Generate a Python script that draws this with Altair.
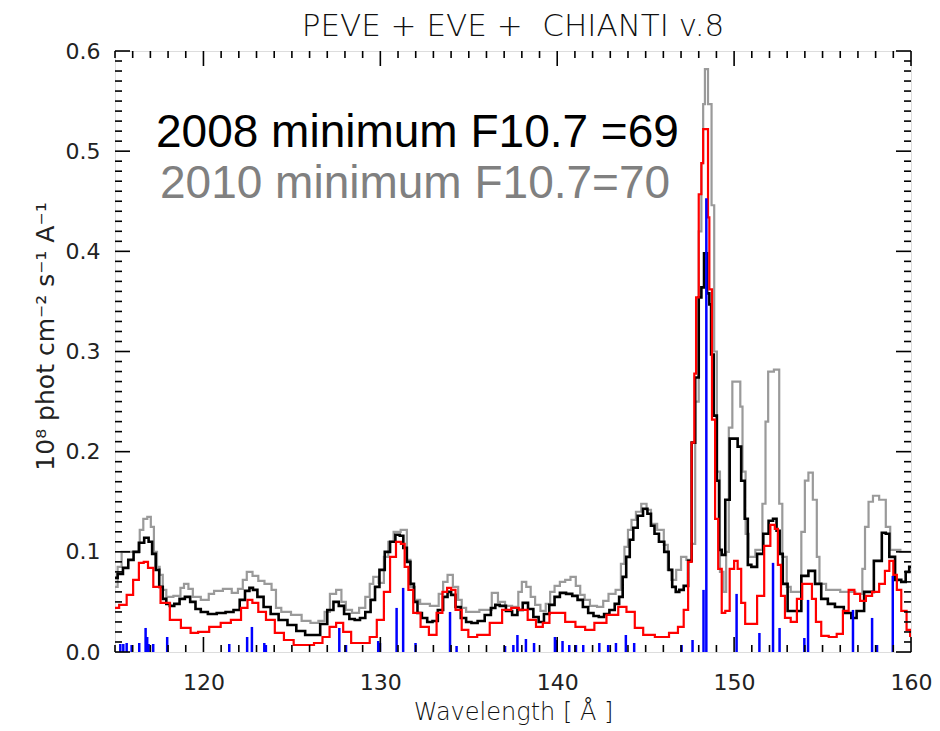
import altair as alt
import numpy as np
import pandas as pd

# ---- spectra (wavelength in Angstrom, flux in 1e8 phot cm^-2 s^-1 A^-1) ----
wl_2008 = [115.0, 115.3, 115.6, 115.9, 116.2, 116.5, 116.8, 117.0, 117.2, 117.4, 117.6, 117.8,
           118.0, 118.2, 118.5, 118.8, 119.1, 119.4, 119.7, 120.0, 120.5, 121.0, 121.5, 121.9,
           122.2, 122.5, 122.7, 122.9, 123.2, 123.6, 124.0, 124.5, 125.0, 125.5, 126.0, 126.4,
           126.8, 127.2, 127.5, 127.8, 128.1, 128.4, 128.7, 129.0, 129.3, 129.6, 129.8, 130.1,
           130.4, 130.7, 131.0, 131.2, 131.4, 131.6, 131.8, 132.0, 132.2, 132.5, 132.8, 133.1,
           133.4, 133.7, 133.9, 134.1, 134.4, 134.7, 135.0, 135.3, 135.7, 136.1, 136.4, 136.6,
           136.9, 137.3, 137.6, 137.9, 138.2, 138.5, 138.8, 139.1, 139.4, 139.7, 140.0, 140.3,
           140.7, 141.0, 141.3, 141.6, 141.9, 142.2, 142.5, 142.8, 143.1, 143.4, 143.6, 143.8,
           144.0, 144.2, 144.4, 144.7, 145.0, 145.2, 145.4, 145.6, 145.9, 146.2, 146.4, 146.6,
           146.8, 147.0, 147.3, 147.5, 147.7, 147.9, 148.1, 148.2, 148.4, 148.55, 148.65, 148.75,
           148.95, 149.1, 149.2, 149.4, 149.6, 149.9, 150.1, 150.3, 150.5, 150.7, 150.85, 151.1,
           151.5, 151.8, 152.1, 152.3, 152.5, 152.65, 152.85, 153.2, 153.6, 154.0, 154.4, 154.75,
           155.1, 155.5, 155.9, 156.5, 156.75, 157.1, 157.6, 158.2, 158.5, 158.65, 158.9, 159.3,
           159.6, 159.8, 160.0]
fx_2008 = [0.074, 0.078, 0.084, 0.092, 0.100, 0.109, 0.114, 0.110, 0.098, 0.082, 0.065, 0.053,
           0.048, 0.046, 0.048, 0.053, 0.055, 0.050, 0.043, 0.040, 0.038, 0.039, 0.040, 0.042,
           0.052, 0.061, 0.064, 0.062, 0.055, 0.045, 0.038, 0.032, 0.027, 0.021, 0.017, 0.017,
           0.028, 0.042, 0.050, 0.046, 0.038, 0.033, 0.032, 0.034, 0.040, 0.052, 0.065, 0.082,
           0.100, 0.110, 0.117, 0.116, 0.104, 0.090, 0.068, 0.050, 0.039, 0.034, 0.030, 0.031,
           0.042, 0.055, 0.060, 0.057, 0.045, 0.034, 0.030, 0.029, 0.031, 0.037, 0.044, 0.047,
           0.046, 0.041, 0.037, 0.042, 0.049, 0.043, 0.035, 0.030, 0.038, 0.047, 0.055, 0.059,
           0.058, 0.056, 0.052, 0.045, 0.039, 0.036, 0.035, 0.038, 0.042, 0.048, 0.055, 0.075,
           0.095, 0.112, 0.124, 0.136, 0.143, 0.138, 0.126, 0.118, 0.110, 0.100, 0.082, 0.065,
           0.060, 0.062, 0.066, 0.091, 0.209, 0.274, 0.354, 0.364, 0.398, 0.358, 0.347, 0.297,
           0.236, 0.171, 0.102, 0.097, 0.152, 0.213, 0.213, 0.205, 0.171, 0.133, 0.087, 0.085,
           0.098, 0.118, 0.131, 0.133, 0.121, 0.098, 0.068, 0.041, 0.041, 0.076, 0.081, 0.068,
           0.053, 0.048, 0.045, 0.039, 0.034, 0.041, 0.060, 0.091, 0.119, 0.118, 0.095, 0.072,
           0.070, 0.080, 0.085]

wl_2010 = [115.0, 115.3, 115.45, 116.3, 116.5, 116.7, 116.95, 117.1, 117.3, 117.45, 117.6, 117.8,
           118.0, 118.6, 118.8, 119.0, 119.3, 119.5, 120.2, 120.4, 120.8, 121.4, 121.8, 122.1,
           122.35, 122.55, 123.0, 123.2, 123.7, 124.0, 124.2, 124.6, 125.3, 125.8, 126.3, 126.7,
           127.0, 127.3, 127.7, 127.9, 128.2, 128.6, 129.0, 129.3, 129.5, 129.7, 130.1, 130.3,
           130.6, 130.9, 131.4, 131.6, 131.8, 132.1, 132.4, 133.2, 133.4, 133.7, 133.9, 134.3,
           134.5, 134.7, 135.0, 136.2, 136.4, 136.9, 137.2, 137.7, 137.9, 138.1, 138.4, 138.6,
           138.9, 139.2, 139.5, 139.7, 140.0, 140.3, 140.6, 140.9, 141.2, 141.4, 141.7, 142.0,
           142.5, 142.7, 143.1, 143.5, 143.7, 143.9, 144.1, 144.3, 144.6, 144.9, 145.2, 145.4,
           145.9, 146.15, 146.35, 146.55, 146.9, 147.1, 147.5, 147.7, 147.9, 148.1, 148.2, 148.3,
           148.4, 148.65, 148.8, 148.95, 149.1, 149.3, 149.5, 149.6, 149.8, 150.0, 150.3, 150.4,
           150.55, 150.75, 150.9, 151.5, 151.7, 151.85, 152.0, 152.5, 152.6, 152.85, 153.1, 153.3,
           153.7, 153.9, 154.1, 154.3, 154.6, 154.75, 154.9, 155.5, 156.5, 157.2, 157.3, 157.5,
           157.7, 158.0, 158.4, 158.75, 158.9, 159.9, 160.0]
fx_2010 = [0.065, 0.085, 0.100, 0.100, 0.122, 0.133, 0.135, 0.125, 0.100, 0.085, 0.077, 0.062,
           0.055, 0.056, 0.064, 0.068, 0.063, 0.055, 0.052, 0.058, 0.061, 0.063, 0.059, 0.063,
           0.072, 0.080, 0.076, 0.071, 0.068, 0.062, 0.044, 0.040, 0.037, 0.031, 0.029, 0.031,
           0.040, 0.058, 0.062, 0.050, 0.042, 0.039, 0.044, 0.055, 0.068, 0.075, 0.069, 0.095,
           0.110, 0.120, 0.122, 0.092, 0.065, 0.052, 0.048, 0.046, 0.058, 0.070, 0.077, 0.065,
           0.052, 0.044, 0.040, 0.042, 0.059, 0.050, 0.046, 0.045, 0.060, 0.070, 0.065, 0.055,
           0.047, 0.041, 0.048, 0.060, 0.066, 0.070, 0.072, 0.075, 0.066, 0.057, 0.052, 0.046,
           0.045, 0.051, 0.058, 0.062, 0.088, 0.105, 0.122, 0.132, 0.140, 0.148, 0.142, 0.128,
           0.122, 0.107, 0.082, 0.072, 0.082, 0.095, 0.092, 0.108, 0.250, 0.420, 0.488, 0.547,
           0.582, 0.547, 0.446, 0.300, 0.180, 0.080, 0.060, 0.100, 0.224, 0.270, 0.270, 0.245,
           0.180, 0.118, 0.095, 0.102, 0.148, 0.230, 0.280, 0.282, 0.148, 0.095, 0.065, 0.060,
           0.060, 0.120, 0.171, 0.179, 0.152, 0.095, 0.068, 0.062, 0.060, 0.058, 0.083, 0.125,
           0.150, 0.156, 0.152, 0.125, 0.102, 0.100, 0.100]

wl_model = [115.0, 115.47, 115.85, 116.2, 116.5, 116.75, 116.98, 117.35, 117.8, 118.4, 119.05,
            119.5, 119.9, 120.75, 121.2, 121.9, 122.35, 122.63, 122.9, 123.3, 123.77, 124.3,
            124.8, 125.4, 126.0, 126.5, 126.96, 127.3, 127.7, 128.1, 128.6, 129.2, 129.6, 130.0,
            130.4, 130.7, 131.07, 131.25, 131.5, 131.67, 132.05, 132.5, 132.99, 133.37, 133.65,
            133.9, 134.1, 134.4, 134.8, 135.15, 135.8, 136.57, 137.2, 137.6, 138.06, 138.6, 139.0,
            139.37, 139.75, 140.2, 140.7, 141.36, 141.8, 142.4, 143.17, 143.73, 144.1, 144.67,
            145.05, 145.99, 146.65, 147.0, 147.3, 147.5, 147.7, 147.8, 147.9, 148.1, 148.2, 148.3,
            148.5, 148.55, 148.65, 148.85, 149.0, 149.2, 149.4, 149.6, 149.9, 150.1, 150.3, 150.5,
            150.75, 151.1, 151.5, 151.9, 152.2, 152.4, 152.55, 152.75, 153.0, 153.4, 153.7, 154.0,
            154.3, 154.5, 154.75, 155.1, 155.6, 156.0, 156.3, 156.65, 156.95, 157.3, 157.6, 158.0,
            158.4, 158.65, 158.9, 159.1, 159.3, 159.6, 159.9, 160.0]
fx_model = [0.044, 0.047, 0.057, 0.072, 0.089, 0.090, 0.084, 0.065, 0.049, 0.032, 0.024,
            0.019, 0.020, 0.025, 0.029, 0.032, 0.044, 0.052, 0.049, 0.040, 0.032, 0.019,
            0.012, 0.007, 0.007, 0.009, 0.015, 0.025, 0.029, 0.020, 0.009, 0.009, 0.015, 0.032,
            0.060, 0.095, 0.110, 0.108, 0.085, 0.062, 0.039, 0.025, 0.017, 0.039, 0.060,
            0.064, 0.062, 0.042, 0.022, 0.015, 0.017, 0.029, 0.042, 0.044, 0.042, 0.032, 0.025,
            0.029, 0.039, 0.039, 0.030, 0.025, 0.022, 0.029, 0.037, 0.045, 0.040, 0.024,
            0.017, 0.015, 0.019, 0.025, 0.042, 0.090, 0.209, 0.278, 0.354, 0.457, 0.488, 0.522,
            0.522, 0.434, 0.362, 0.232, 0.133, 0.083, 0.039, 0.041, 0.083, 0.091, 0.083, 0.049,
            0.028, 0.028, 0.056, 0.106, 0.127, 0.123, 0.087, 0.056, 0.034, 0.030, 0.053, 0.068,
            0.068, 0.053, 0.030, 0.016, 0.015, 0.018, 0.041, 0.062, 0.058, 0.051, 0.056, 0.060,
            0.068, 0.081, 0.091, 0.077, 0.062, 0.041, 0.022, 0.016]

# CHIANTI line list (position, intensity)
line_wl = [115.3, 115.47, 115.66, 115.94, 116.37, 116.73, 116.82, 116.9, 117.16, 117.95,
           121.46, 122.47, 122.74, 123.44, 123.53, 127.68, 128.06, 129.88, 129.98, 130.92,
           131.29, 131.99, 133.94, 134.31, 137.05, 137.52, 137.75, 138.23, 138.69, 139.87,
           139.97, 140.3, 140.68, 141.06, 141.47, 142.38, 142.88, 143.32, 143.88, 144.35,
           147.03, 147.65, 148.27, 148.43, 150.14, 151.43, 152.2, 152.57, 153.97, 154.18,
           156.72, 157.8, 158.08, 158.97]
line_fx = [0.008, 0.008, 0.009, 0.007, 0.009, 0.024, 0.015, 0.008, 0.008, 0.015,
           0.008, 0.015, 0.025, 0.009, 0.007, 0.024, 0.007, 0.011, 0.009, 0.044,
           0.064, 0.009, 0.040, 0.006, 0.006, 0.007, 0.017, 0.013, 0.009, 0.015,
           0.012, 0.011, 0.007, 0.007, 0.007, 0.009, 0.007, 0.009, 0.017, 0.009,
           0.007, 0.012, 0.062, 0.453, 0.058, 0.019, 0.089, 0.024, 0.014, 0.052,
           0.042, 0.034, 0.007, 0.076]

x_ticks = [120, 130, 140, 150, 160]
y_ticks = [0.0, 0.1, 0.2, 0.3, 0.4, 0.5, 0.6]
X_MIN, X_MAX = 115, 160
Y_MIN, Y_MAX = 0.0, 0.6

W, H = 796, 601
FONT = "DejaVu Sans"
THIN = 200

xs = alt.Scale(domain=[X_MIN, X_MAX], nice=False, zero=False)
ys = alt.Scale(domain=[Y_MIN, Y_MAX], nice=False, zero=False)

x_enc = alt.X(
    "w:Q", scale=xs,
    axis=alt.Axis(values=x_ticks, format="d", tickSize=0, domain=False, grid=False,
                  labelFont=FONT, labelFontSize=22, labelColor="#222222", labelPadding=20,
                  labelFlush=False, title="Wavelength [ Å ]",
                  titleFont=FONT, titleFontSize=24, titleFontWeight=THIN,
                  titleColor="#111111", titleX=W / 2, titleY=67, titleBaseline="alphabetic"),
)
y_enc = alt.Y(
    "f:Q", scale=ys,
    axis=alt.Axis(values=y_ticks, format=".1f", tickSize=0, domain=False, grid=False,
                  labelFont=FONT, labelFontSize=22, labelColor="#222222", labelPadding=15,
                  labelFlush=False, labelBaseline="middle",
                  title="10⁸ phot cm⁻² s⁻¹ A⁻¹", titleFont=FONT, titleFontSize=25,
                  titleFontWeight="normal", titleColor="#222222", titleAngle=270,
                  titleX=-70, titleY=285, titleAlign="center", titleBaseline="middle"),
)

def spectrum(wl, fx, color, width):
    df = pd.DataFrame({"w": wl, "f": fx})
    return alt.Chart(df).mark_line(
        interpolate="step", color=color, strokeWidth=width, clip=True
    ).encode(x=x_enc, y=y_enc)

gray = spectrum(wl_2010, fx_2010, "#9a9a9a", 2.2)
black = spectrum(wl_2008, fx_2008, "#000000", 2.6)
red = spectrum(wl_model, fx_model, "#ff0000", 2.2)

lines_df = pd.DataFrame({"w": line_wl, "f": line_fx})
sticks = alt.Chart(lines_df).mark_rule(color="#0000ff", strokeWidth=2.5).encode(
    x=alt.X("w:Q", scale=xs), y=alt.Y("f:Q", scale=ys), y2=alt.datum(0)
)

# tick marks drawn inward on all four sides
xt = pd.DataFrame({"w": np.arange(X_MIN, X_MAX + 1)})
xt["major"] = xt["w"] % 10 == 0
yt = pd.DataFrame({"f": np.round(np.arange(0, 61) * 0.01, 2)})
yt["major"] = (np.arange(0, 61) % 10) == 0

MAJ, MIN = 15, 7
tick_layers = []
for is_major, ln in [(True, MAJ), (False, MIN)]:
    xd = xt[xt["major"] == is_major]
    yd = yt[yt["major"] == is_major]
    base_x = alt.Chart(xd).mark_rule(color="black", strokeWidth=1.6)
    base_y = alt.Chart(yd).mark_rule(color="black", strokeWidth=1.6)
    tick_layers += [
        base_x.encode(x=alt.X("w:Q", scale=xs), y=alt.value(H), y2=alt.value(H - ln)),
        base_x.encode(x=alt.X("w:Q", scale=xs), y=alt.value(0), y2=alt.value(ln)),
        base_y.encode(y=alt.Y("f:Q", scale=ys), x=alt.value(0), x2=alt.value(ln)),
        base_y.encode(y=alt.Y("f:Q", scale=ys), x=alt.value(W), x2=alt.value(W - ln)),
    ]

# title and annotations
title_df = pd.DataFrame({"t": ["PEVE + EVE + \u00a0CHIANTI v.8"]})
title = alt.Chart(title_df).mark_text(
    font=FONT, fontSize=31, fontWeight=THIN, color="#111111", align="center",
    baseline="alphabetic"
).encode(text="t:N", x=alt.value(W / 2), y=alt.value(-15))

ann1 = alt.Chart(pd.DataFrame({"t": ["2008 minimum F10.7 =69"]})).mark_text(
    font="Liberation Sans", fontSize=46, color="#000000", align="left", baseline="alphabetic"
).encode(text="t:N", x=alt.value(41), y=alt.value(96))
ann2 = alt.Chart(pd.DataFrame({"t": ["2010 minimum F10.7=70"]})).mark_text(
    font="Liberation Sans", fontSize=46, color="#808080", align="left", baseline="alphabetic"
).encode(text="t:N", x=alt.value(45), y=alt.value(147))

chart = alt.layer(
    gray, black, red, sticks, *tick_layers, title, ann1, ann2
).properties(
    width=W, height=H,
    autosize=alt.AutoSizeParams(type="none"),
    padding={"left": 115, "top": 51, "right": 29, "bottom": 79},
).configure_view(
    stroke="black", strokeWidth=2
).configure(background="white")

chart.save("out.html", embed_options={"renderer": "svg", "actions": False})
